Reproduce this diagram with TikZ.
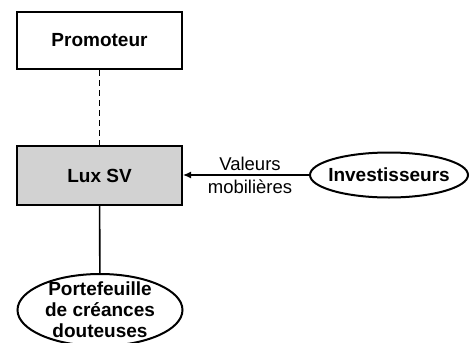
\documentclass[tikz,border=0pt]{standalone}
\usepackage{fontspec}
\setmainfont{Liberation Sans}
\usepackage{xcolor}
\usetikzlibrary{shapes.geometric, arrows.meta}

\begin{document}
\begin{tikzpicture}[x=1pt, y=-1pt, line width=2pt,
  boite/.style={draw, minimum width=165pt, minimum height=57pt, font=\fontsize{19}{21}\selectfont\bfseries},
  bulle/.style={draw, ellipse, inner sep=0pt, align=center, font=\fontsize{19}{21}\selectfont\bfseries}]
\useasboundingbox (0,0) rectangle (472,343);

\node[boite] (promoteur) at (99.5,40.5) {Promoteur};
\node[boite, fill=gray!35, minimum height=59pt] (luxsv) at (99.5,175.5) {Lux SV};
\node[bulle, minimum width=158pt, minimum height=45pt, inner xsep=-6pt] (investisseurs) at (389,175) {Investisseurs};
\node[bulle, minimum width=165pt, minimum height=72pt, inner ysep=-5pt] (portefeuille) at (100,310) {Portefeuille\\de créances\\douteuses};

\draw[line width=1.4pt, dash pattern=on 6pt off 4pt] (promoteur) -- (luxsv);
\draw[line width=1.6pt] (luxsv) -- (portefeuille);
\draw[line width=1.3pt, -{Latex[length=8pt,width=7pt]}] (investisseurs.west) -- (investisseurs.west -| luxsv.east)
  node[midway, xshift=4pt, align=center, font=\fontsize{18.5}{23}\selectfont] (valeurs) {Valeurs\\mobilières};
\end{tikzpicture}
\end{document}
